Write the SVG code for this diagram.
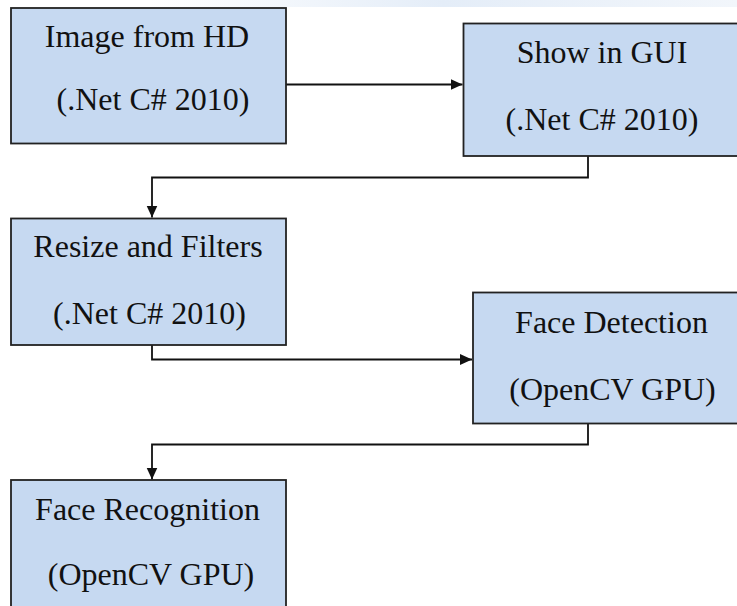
<svg xmlns="http://www.w3.org/2000/svg" width="737" height="606" viewBox="0 0 737 606">
<defs>
<style>
.box{fill:#c6d9f1;stroke:#222;stroke-width:1.8}
.lbl{font-family:'Liberation Serif','Times New Roman','DejaVu Serif',serif;font-size:32px;fill:#111;text-anchor:middle}
.conn{fill:none;stroke:#111;stroke-width:1.8}
</style>
<marker id="arr" viewBox="0 0 12 12" refX="12" refY="6" markerWidth="12" markerHeight="12" markerUnits="userSpaceOnUse" orient="auto">
<path d="M0,0.5 L12,6 L0,11.5 z" fill="#111"/>
</marker>
<linearGradient id="bg" x1="0" y1="0" x2="1" y2="0">
<stop offset="0" stop-color="#ffffff"/>
<stop offset="0.5" stop-color="#e4edf8"/>
<stop offset="1" stop-color="#f2f6fb"/>
</linearGradient>
</defs>
<rect x="0" y="0" width="737" height="606" fill="#fff"/>
<rect x="150" y="0" width="587" height="7" fill="url(#bg)"/>
<g id="connectors">
<path class="conn" d="M286,84.5 H462.5" marker-end="url(#arr)"/>
<path class="conn" d="M588,156 V177.5 H152 V217.5" marker-end="url(#arr)"/>
<path class="conn" d="M152,345 V359.5 H472" marker-end="url(#arr)"/>
<path class="conn" d="M588,423.5 V444.5 H152 V479.5" marker-end="url(#arr)"/>
</g>
<g id="n1">
<rect class="box" x="11" y="8" width="275" height="135.5"/>
<text class="lbl" x="147" y="47">Image from HD</text>
<text class="lbl" x="153" y="110">(.Net C# 2010)</text>
</g>
<g id="n2">
<rect class="box" x="463.5" y="23.5" width="280" height="132.5"/>
<text class="lbl" x="602" y="63">Show in GUI</text>
<text class="lbl" x="602" y="130">(.Net C# 2010)</text>
</g>
<g id="n3">
<rect class="box" x="11" y="218.5" width="275" height="126.5"/>
<text class="lbl" x="148" y="257">Resize and Filters</text>
<text class="lbl" x="149.5" y="324">(.Net C# 2010)</text>
</g>
<g id="n4">
<rect class="box" x="473" y="292.5" width="270" height="131"/>
<text class="lbl" x="611.5" y="333">Face Detection</text>
<text class="lbl" x="612.5" y="400">(OpenCV GPU)</text>
</g>
<g id="n5">
<rect class="box" x="11" y="480" width="275" height="140"/>
<text class="lbl" x="147.5" y="520">Face Recognition</text>
<text class="lbl" x="151" y="585">(OpenCV GPU)</text>
</g>
</svg>
